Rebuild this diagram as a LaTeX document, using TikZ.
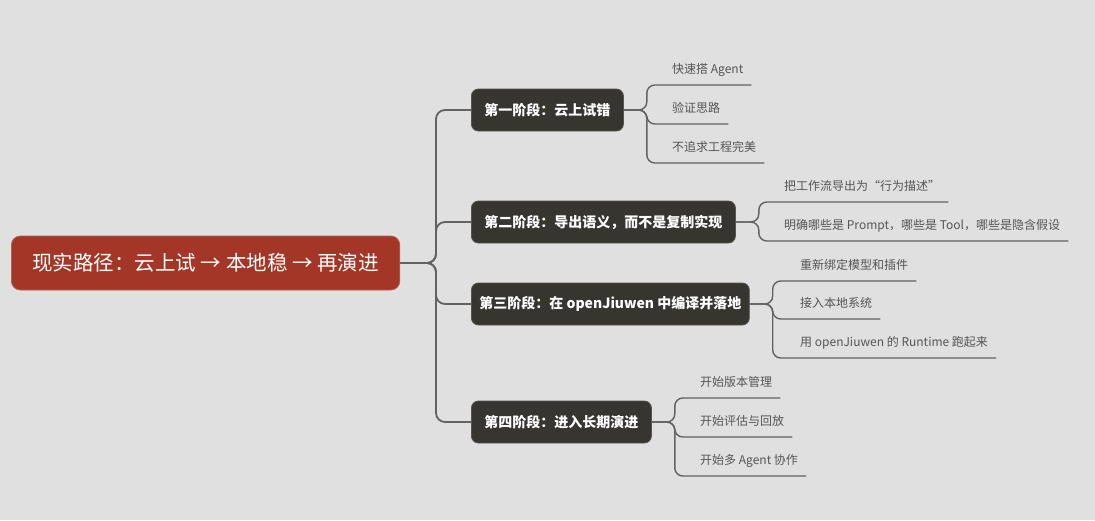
\documentclass[tikz,border=0pt]{standalone}
\usepackage{fontspec}
\setmainfont{Noto Sans CJK SC}
\usetikzlibrary{positioning}
\definecolor{rpbg}{HTML}{E0E0E0}
\definecolor{rpred}{HTML}{A33627}
\definecolor{rpdark}{HTML}{363530}
\definecolor{rpline}{HTML}{626262}
\definecolor{rpleaf}{HTML}{555555}
\tikzset{
  rp root/.style={fill=rpred, draw=rpred!80!white, line width=0.8pt, rounded corners=9pt,
    minimum height=54pt, inner xsep=21pt, anchor=west, text=white, font=\fontsize{20.5}{23}\selectfont},
  rp stage/.style={fill=rpdark, draw=rpdark!85!white, line width=0.8pt, rounded corners=7pt,
    minimum height=42pt, inner xsep=13pt, anchor=west, text=white, font=\fontsize{14}{16}\selectfont\bfseries},
  rp leaf/.style={anchor=south west, inner xsep=8pt, inner ysep=0pt, text height=10pt,
    text depth=11.5pt, text=rpleaf, font=\fontsize{12}{14}\selectfont},
  rp trunk/.style={draw=rpline, line width=1.8pt, rounded corners=9pt},
  rp branch/.style={draw=rpline, line width=1.4pt, rounded corners=8pt}
}
\begin{document}
\begin{tikzpicture}[x=1pt, y=-1pt]
  \fill[rpbg] (0,0) rectangle (1095,520);
  \useasboundingbox (0,0) rectangle (1095,520);
  % root and stages
  \node[rp root] (root) at (11,263) {现实路径：云上试 → 本地稳 → 再演进};
  \coordinate (trunk) at (436,263);
  \node[rp stage] (s1) at (471,110) {第一阶段：云上试错};
  \node[rp stage] (s2) at (471,222) {第二阶段：导出语义，而不是复制实现};
  \node[rp stage, inner xsep=8pt] (s3) at (471,304) {第三阶段：在 openJiuwen 中编译并落地};
  \node[rp stage] (s4) at (471,422) {第四阶段：进入长期演进};
  \foreach \s in {s1,s2,s3,s4} {\draw[rp trunk] (root.east) -- (trunk) |- (\s.west);}
  % leaves
  \node[rp leaf] (l11) at (664,85) {快速搭 Agent};
  \node[rp leaf] (l12) at (664,124) {验证思路};
  \node[rp leaf] (l13) at (664,163) {不追求工程完美};
  \node[rp leaf] (l21) at (776,202) {把工作流导出为“行为描述”};
  \node[rp leaf] (l22) at (776,241) {明确哪些是 Prompt，哪些是 Tool，哪些是隐含假设};
  \node[rp leaf] (l31) at (792,281) {重新绑定模型和插件};
  \node[rp leaf] (l32) at (792,319) {接入本地系统};
  \node[rp leaf] (l33) at (792,358) {用 openJiuwen 的 Runtime 跑起来};
  \node[rp leaf] (l41) at (692,398) {开始版本管理};
  \node[rp leaf] (l42) at (692,437) {开始评估与回放};
  \node[rp leaf] (l43) at (692,476) {开始多 Agent 协作};
  \foreach \s/\l in {s1/l11,s1/l12,s1/l13,s2/l21,s2/l22,s3/l31,s3/l32,s3/l33,s4/l41,s4/l42,s4/l43}
    {\draw[rp branch] (\s.east) -- ++(23,0) |- (\l.south east);}
\end{tikzpicture}
\end{document}
